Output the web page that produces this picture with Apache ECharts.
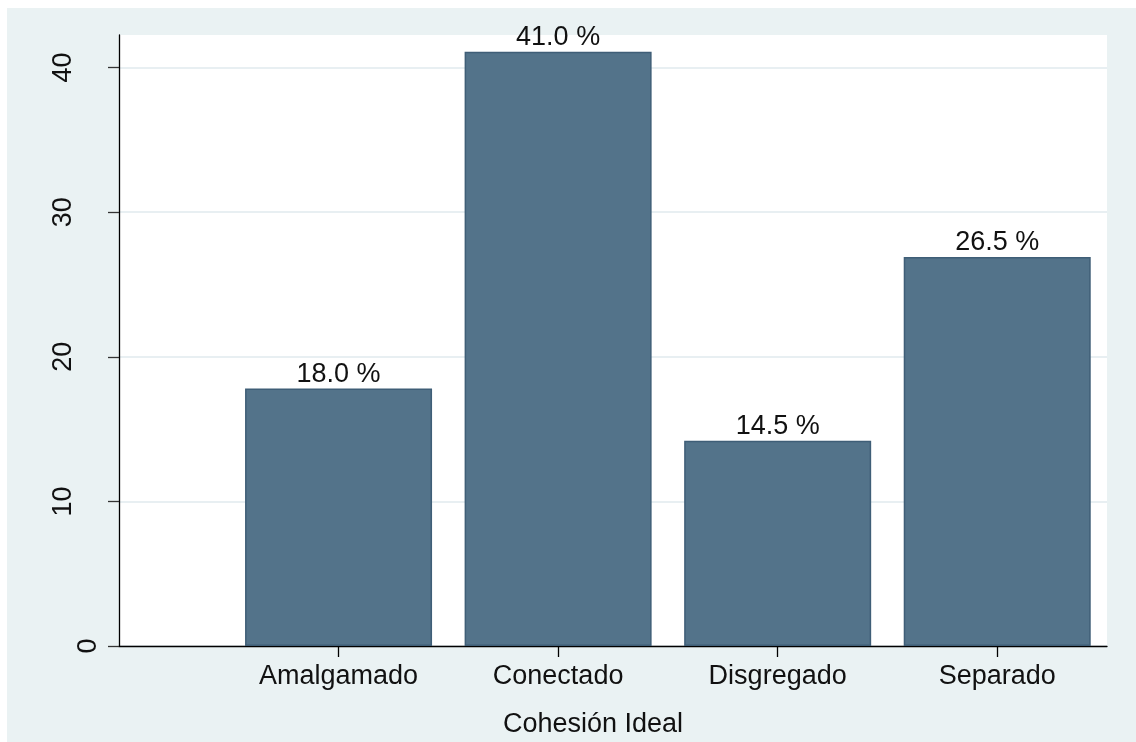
<!DOCTYPE html>
<html>
<head>
<meta charset="utf-8">
<script src="https://cdn.jsdelivr.net/npm/echarts@6/dist/echarts.min.js"></script>
<style>
  html, body { margin: 0; padding: 0; background: #ffffff; width: 1136px; height: 742px; overflow: hidden; }
  #chart { position: absolute; left: 7px; top: 8px; width: 1129px; height: 734px; }
</style>
</head>
<body>
<div id="chart"></div>
<script>
// ---- data ----
const categories = ['Amalgamado', 'Conectado', 'Disgregado', 'Separado'];
const positions = [1, 2, 3, 4];
const barHeights = [17.8, 41.1, 14.2, 26.9];
const barLabels = ['18.0 %', '41.0 %', '14.5 %', '26.5 %'];
const yTickValues = [0, 10, 20, 30, 40];
const xAxisTitle = 'Cohesión Ideal';

const FONT = '"Liberation Sans", Arial, sans-serif';
const FS = 27;
const seriesData = positions.map((p, i) => [p, barHeights[i]]);

const chart = echarts.init(document.getElementById('chart'), null, { renderer: 'canvas' });
chart.setOption({
  backgroundColor: '#eaf2f3',
  animation: false,
  grid: {
    left: 112, top: 27, right: 29, bottom: 96,
    outerBoundsMode: 'none',
    containLabel: false,
    show: true, backgroundColor: '#ffffff', borderWidth: 0
  },
  xAxis: {
    type: 'value',
    min: 0, max: 4.5,
    name: xAxisTitle,
    nameLocation: 'middle',
    nameGap: 65,
    nameTextStyle: { fontFamily: FONT, fontSize: FS, color: '#111', padding: [0, 40, 0, 0] },
    axisLine: { show: true, onZero: false, lineStyle: { color: '#000', width: 1.3 } },
    axisTick: { show: true, customValues: positions, length: 11, lineStyle: { color: '#000', width: 1.3 } },
    axisLabel: {
      customValues: positions,
      margin: 17,
      fontFamily: FONT, fontSize: FS, color: '#111',
      formatter: v => categories[Math.round(v) - 1] || ''
    },
    splitLine: { show: false }
  },
  yAxis: [
    {
      type: 'value', min: 0, max: 42.25,
      axisLine: { show: true, lineStyle: { color: '#000', width: 1.3 } },
      axisTick: { show: true, customValues: yTickValues, length: 11, lineStyle: { color: '#333', width: 1.3 } },
      axisLabel: {
        customValues: yTickValues.filter(v => v !== 0),
        rotate: 90, margin: 42,
        fontFamily: FONT, fontSize: FS, color: '#111'
      },
      splitLine: { show: true, lineStyle: { color: '#e8eff2', width: 1.8 } }
    },
    {
      type: 'value', min: 0, max: 42.25, position: 'left',
      axisLine: { show: false },
      axisTick: { show: false },
      axisLabel: {
        customValues: [0],
        rotate: 90, margin: 17,
        fontFamily: FONT, fontSize: FS, color: '#111'
      },
      splitLine: { show: false }
    }
  ],
  series: [{
    type: 'bar',
    data: seriesData,
    barWidth: 187,
    itemStyle: { color: '#53738a', borderColor: '#3f5e77', borderWidth: 1.5 },
    label: {
      show: true, position: 'top', distance: 1,
      fontFamily: FONT, fontSize: FS, color: '#111',
      formatter: p => barLabels[p.dataIndex]
    }
  }]
});
</script>
</body>
</html>
